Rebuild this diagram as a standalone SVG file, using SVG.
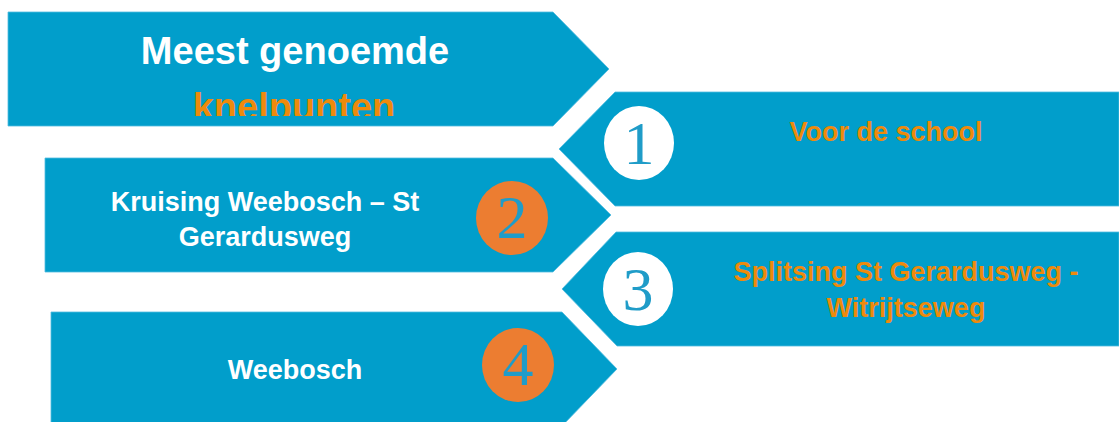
<svg xmlns="http://www.w3.org/2000/svg" width="1119" height="422" viewBox="0 0 1119 422">
  <style>
    .shape { fill: #019ECB; stroke: #52BBDF; stroke-width: 0.8; }
    .txt { font-family: "Liberation Sans", Arial, sans-serif; font-weight: bold; text-anchor: middle; }
    .white { fill: #FFFFFF; }
    .orange { fill: #EE8A0C; }
    .num { font-family: "Liberation Serif", "Times New Roman", serif; font-size: 62px; fill: #1F9CC8; text-anchor: middle; }
    .badge-w { fill: #FFFFFF; }
    .badge-o { fill: #EC7D31; }
  </style>
  <defs>
    <clipPath id="titleClip">
      <rect x="8" y="12" width="601" height="104"/>
    </clipPath>
  </defs>
  <rect width="1119" height="422" fill="#FFFFFF"/>

  <g id="title">
    <path class="shape" d="M8,12 H553 L609,69 L553,126 H8 Z"/>
    <text class="txt white" x="295" y="64" font-size="38">Meest genoemde</text>
    <g clip-path="url(#titleClip)">
      <text class="txt orange" x="294" y="120" font-size="38">knelpunten</text>
    </g>
  </g>

  <g id="item1">
    <path class="shape" d="M615,92 H1119 V206 H615 L559,149 Z"/>
    <ellipse class="badge-w" cx="639" cy="143" rx="35" ry="37"/>
    <text class="num" x="639" y="164">1</text>
    <text class="txt orange" x="886" y="141" font-size="27">Voor de school</text>
  </g>

  <g id="item2">
    <path class="shape" d="M45,158 H553 L611,215 L553,272 H45 Z"/>
    <text class="txt white" x="265" y="211" font-size="27">Kruising Weebosch – St</text>
    <text class="txt white" x="265" y="246" font-size="27">Gerardusweg</text>
    <ellipse class="badge-o" cx="512" cy="218" rx="36" ry="37"/>
    <text class="num" x="512" y="238">2</text>
  </g>

  <g id="item3">
    <path class="shape" d="M616,232 H1119 V346 H617 L562,289 Z"/>
    <ellipse class="badge-w" cx="638" cy="289" rx="35" ry="37"/>
    <text class="num" x="638" y="310">3</text>
    <text class="txt orange" x="906" y="281" font-size="27">Splitsing St Gerardusweg -</text>
    <text class="txt orange" x="906" y="317" font-size="27">Witrijtseweg</text>
  </g>

  <g id="item4">
    <path class="shape" d="M51,312 H562 L617,369 L562,426 H51 Z"/>
    <text class="txt white" x="295" y="379" font-size="27">Weebosch</text>
    <ellipse class="badge-o" cx="518" cy="365" rx="36" ry="37"/>
    <text class="num" x="518" y="385">4</text>
  </g>
</svg>
